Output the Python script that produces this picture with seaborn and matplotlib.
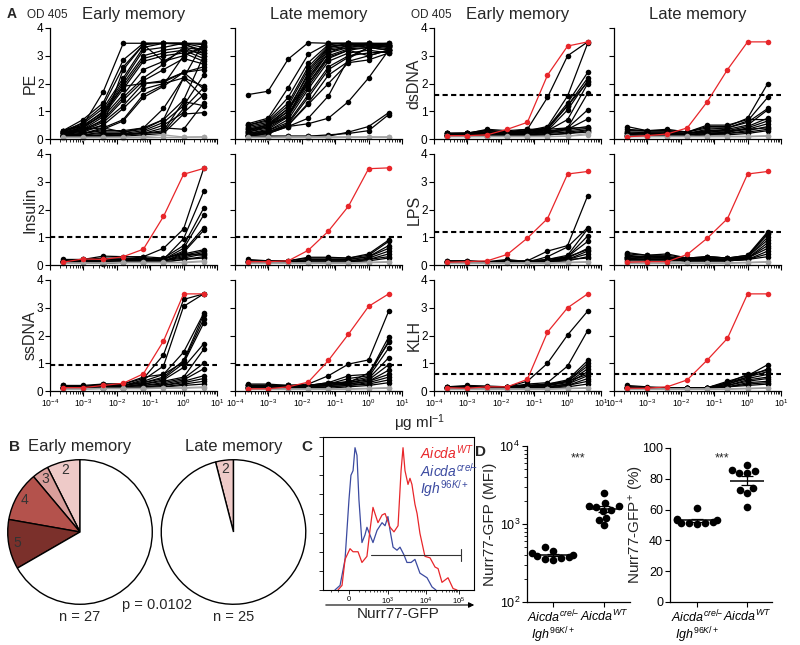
import numpy as np
import pandas as pd
import matplotlib
matplotlib.use("Agg")
import matplotlib.pyplot as plt
import seaborn as sns
from matplotlib.ticker import LogLocator, NullFormatter, FixedLocator

sns.set_theme(style="ticks")
plt.rcParams['font.family'] = ['Liberation Sans', 'DejaVu Sans']
plt.rcParams['mathtext.fontset'] = 'custom'
plt.rcParams['mathtext.rm'] = 'Liberation Sans'
plt.rcParams['mathtext.it'] = 'Liberation Sans:italic'
plt.rcParams['mathtext.bf'] = 'Liberation Sans:bold'
plt.rcParams['axes.edgecolor'] = 'black'
plt.rcParams['xtick.color'] = 'black'
plt.rcParams['ytick.color'] = 'black'

# ---------------- data: panel A ----------------
conc = [0.000244, 0.000977, 0.00391, 0.0156, 0.0625, 0.25, 1.0, 4.0]

pe_early = [
    [0.30, 0.50, 1.70, 3.45, 3.45, 3.45, 3.45, 3.45],
    [0.30, 0.70, 1.30, 2.85, 3.45, 3.45, 3.45, 3.40],
    [0.25, 0.60, 1.20, 2.60, 3.40, 3.45, 3.45, 3.30],
    [0.30, 0.55, 1.10, 2.20, 3.30, 3.45, 3.40, 3.20],
    [0.20, 0.45, 1.00, 2.10, 3.20, 3.30, 3.45, 3.10],
    [0.25, 0.50, 0.95, 2.00, 3.00, 3.20, 3.30, 3.00],
    [0.20, 0.40, 0.90, 1.90, 2.90, 3.10, 3.20, 2.90],
    [0.30, 0.45, 0.85, 1.80, 2.80, 3.00, 3.10, 2.80],
    [0.20, 0.35, 0.80, 1.60, 2.50, 2.80, 3.00, 3.30],
    [0.15, 0.30, 0.70, 1.50, 2.20, 2.70, 3.30, 3.20],
    [0.20, 0.35, 0.65, 1.40, 2.10, 2.50, 2.90, 2.70],
    [0.15, 0.30, 0.60, 1.20, 2.00, 2.10, 2.40, 2.50],
    [0.15, 0.25, 0.50, 1.10, 1.80, 2.00, 2.20, 1.90],
    [0.10, 0.20, 0.40, 0.70, 1.60, 1.95, 3.00, 3.35],
    [0.10, 0.20, 0.35, 0.65, 1.50, 1.90, 2.40, 2.60],
    [0.15, 0.20, 0.30, 0.30, 0.40, 1.10, 2.20, 3.50],
    [0.10, 0.15, 0.25, 0.25, 0.35, 0.70, 1.40, 3.00],
    [0.10, 0.15, 0.20, 0.20, 0.30, 0.60, 1.20, 2.30],
    [0.10, 0.10, 0.15, 0.15, 0.25, 0.50, 0.95, 1.60],
    [0.10, 0.10, 0.10, 0.15, 0.20, 0.40, 0.35, 1.30],
    [0.10, 0.10, 0.15, 0.20, 0.20, 0.30, 1.35, 1.20],
    [0.10, 0.10, 0.10, 0.10, 0.15, 0.20, 0.90, 0.95],
    [0.10, 0.15, 0.10, 0.15, 0.20, 0.25, 1.10, 1.85],
    [0.20, 0.35, 0.40, 0.25, 0.40, 0.70, 2.20, 1.50],
    [0.25, 0.40, 0.90, 1.90, 2.00, 2.05, 2.40, 1.80],
    [0.20, 0.30, 0.50, 2.50, 3.40, 2.80, 3.20, 3.10],
]
pe_early_neg = [[0.07, 0.07, 0.07, 0.07, 0.08, 0.15, 0.07, 0.08],
                [0.05, 0.05, 0.05, 0.05, 0.05, 0.06, 0.06, 0.07]]

pe_late = [
    [1.60, 1.72, 2.88, 3.47, 3.45, 3.45, 3.40, 3.40],
    [0.55, 0.75, 1.85, 3.05, 3.45, 3.45, 3.45, 3.45],
    [0.50, 0.70, 1.50, 2.75, 3.40, 3.45, 3.45, 3.40],
    [0.50, 0.65, 1.30, 2.60, 3.35, 3.40, 3.45, 3.40],
    [0.45, 0.60, 1.20, 2.50, 3.30, 3.40, 3.40, 3.35],
    [0.40, 0.55, 1.10, 2.30, 3.25, 3.35, 3.40, 3.30],
    [0.35, 0.50, 1.00, 2.20, 3.20, 3.30, 3.40, 3.30],
    [0.30, 0.45, 0.90, 2.10, 3.10, 3.30, 3.35, 3.25],
    [0.25, 0.40, 0.85, 2.00, 3.00, 3.25, 3.30, 3.20],
    [0.20, 0.35, 0.80, 1.90, 2.90, 3.20, 3.30, 3.20],
    [0.20, 0.30, 0.70, 1.80, 2.80, 3.10, 3.20, 3.10],
    [0.15, 0.30, 0.60, 1.60, 2.60, 3.00, 3.10, 3.15],
    [0.15, 0.25, 0.55, 1.50, 2.50, 2.95, 3.30, 3.35],
    [0.15, 0.25, 0.50, 1.30, 2.30, 2.80, 3.00, 3.20],
    [0.10, 0.20, 0.50, 1.25, 2.00, 2.75, 2.85, 3.10],
    [0.15, 0.20, 0.45, 0.75, 1.55, 2.90, 3.30, 3.35],
    [0.10, 0.20, 0.45, 0.55, 0.75, 1.35, 2.20, 3.20],
    [0.10, 0.10, 0.10, 0.10, 0.10, 0.25, 0.45, 0.95],
    [0.10, 0.10, 0.10, 0.10, 0.15, 0.20, 0.30, 0.88],
    [0.30, 0.50, 0.80, 2.20, 3.10, 3.40, 3.40, 3.40],
    [0.25, 0.45, 1.00, 2.40, 3.30, 3.45, 3.40, 3.45],
    [0.35, 0.50, 1.10, 2.00, 2.95, 3.20, 3.00, 3.20],
]
pe_late_neg = [[0.07, 0.07, 0.08, 0.08, 0.08, 0.08, 0.08, 0.08],
               [0.05, 0.05, 0.05, 0.05, 0.05, 0.06, 0.06, 0.06]]

dsdna_early = [
    [0.20, 0.22, 0.32, 0.25, 0.35, 1.50, 3.00, 3.50],
    [0.15, 0.15, 0.20, 0.20, 0.30, 0.45, 1.55, 3.45],
    [0.20, 0.20, 0.25, 0.20, 0.25, 0.40, 1.30, 2.40],
    [0.15, 0.15, 0.20, 0.20, 0.20, 0.35, 1.20, 2.20],
    [0.20, 0.20, 0.30, 0.25, 0.30, 0.30, 1.05, 2.10],
    [0.15, 0.15, 0.20, 0.15, 0.20, 0.30, 0.70, 2.00],
    [0.10, 0.10, 0.15, 0.15, 0.15, 0.25, 0.40, 1.65],
    [0.15, 0.15, 0.20, 0.20, 0.20, 0.25, 0.40, 1.05],
    [0.10, 0.10, 0.15, 0.15, 0.15, 0.20, 0.35, 0.72],
    [0.20, 0.20, 0.25, 0.25, 0.25, 0.30, 0.35, 0.45],
    [0.15, 0.15, 0.20, 0.20, 0.20, 0.25, 0.30, 0.38],
    [0.10, 0.10, 0.10, 0.15, 0.15, 0.20, 0.25, 0.33],
    [0.10, 0.12, 0.12, 0.12, 0.15, 0.15, 0.20, 0.30],
    [0.20, 0.20, 0.35, 0.30, 0.35, 0.35, 0.40, 0.40],
    [0.15, 0.20, 0.25, 0.25, 0.30, 0.40, 1.20, 2.05],
    [0.10, 0.10, 0.10, 0.10, 0.12, 0.15, 0.20, 0.25],
]
dsdna_early_neg = [[0.10, 0.10, 0.10, 0.10, 0.10, 0.10, 0.10, 0.20],
                   [0.08, 0.08, 0.08, 0.08, 0.08, 0.08, 0.10, 0.15]]
dsdna_early_pos = [0.12, 0.12, 0.15, 0.35, 0.60, 2.30, 3.35, 3.50]

dsdna_late = [
    [0.45, 0.30, 0.30, 0.25, 0.45, 0.45, 0.75, 2.00],
    [0.30, 0.30, 0.30, 0.25, 0.40, 0.40, 0.65, 1.50],
    [0.25, 0.25, 0.25, 0.20, 0.35, 0.40, 0.60, 1.10],
    [0.20, 0.25, 0.25, 0.20, 0.30, 0.35, 0.50, 1.05],
    [0.20, 0.20, 0.20, 0.20, 0.25, 0.30, 0.45, 0.75],
    [0.15, 0.20, 0.20, 0.15, 0.25, 0.25, 0.40, 0.65],
    [0.15, 0.15, 0.15, 0.15, 0.20, 0.25, 0.35, 0.55],
    [0.10, 0.15, 0.15, 0.15, 0.20, 0.20, 0.30, 0.45],
    [0.10, 0.10, 0.15, 0.15, 0.15, 0.20, 0.25, 0.35],
    [0.10, 0.10, 0.10, 0.10, 0.15, 0.15, 0.20, 0.30],
    [0.35, 0.30, 0.35, 0.25, 0.50, 0.50, 0.70, 0.70],
    [0.20, 0.20, 0.20, 0.20, 0.30, 0.30, 0.35, 0.40],
]
dsdna_late_neg = [[0.10, 0.10, 0.10, 0.10, 0.10, 0.10, 0.10, 0.12],
                  [0.08, 0.08, 0.08, 0.08, 0.08, 0.08, 0.08, 0.10]]
dsdna_late_pos = [0.08, 0.12, 0.18, 0.40, 1.35, 2.50, 3.50, 3.50]

insulin_early = [
    [0.20, 0.20, 0.32, 0.30, 0.30, 0.60, 1.30, 3.48],
    [0.15, 0.20, 0.25, 0.25, 0.25, 0.20, 0.95, 2.65],
    [0.15, 0.15, 0.20, 0.20, 0.20, 0.25, 0.70, 2.05],
    [0.10, 0.15, 0.20, 0.20, 0.20, 0.20, 0.60, 1.80],
    [0.15, 0.15, 0.20, 0.20, 0.25, 0.20, 0.50, 1.35],
    [0.10, 0.10, 0.15, 0.15, 0.20, 0.20, 0.45, 1.25],
    [0.10, 0.15, 0.15, 0.15, 0.15, 0.15, 0.40, 0.55],
    [0.10, 0.10, 0.10, 0.15, 0.15, 0.15, 0.35, 0.50],
    [0.10, 0.10, 0.10, 0.10, 0.10, 0.15, 0.30, 0.45],
    [0.10, 0.10, 0.10, 0.10, 0.15, 0.15, 0.25, 0.40],
    [0.10, 0.10, 0.05, 0.10, 0.10, 0.10, 0.20, 0.30],
    [0.15, 0.15, 0.20, 0.20, 0.30, 0.25, 0.40, 0.35],
    [0.10, 0.10, 0.10, 0.10, 0.10, 0.10, 0.20, 0.25],
]
insulin_early_neg = [[0.08, 0.08, 0.08, 0.10, 0.10, 0.10, 0.10, 0.15],
                     [0.06, 0.06, 0.06, 0.08, 0.08, 0.08, 0.08, 0.12]]
insulin_early_pos = [0.10, 0.22, 0.20, 0.30, 0.57, 1.75, 3.27, 3.48]

insulin_late = [
    [0.20, 0.15, 0.15, 0.28, 0.28, 0.25, 0.40, 0.90],
    [0.15, 0.15, 0.15, 0.25, 0.25, 0.25, 0.35, 0.85],
    [0.15, 0.12, 0.12, 0.20, 0.20, 0.20, 0.30, 0.70],
    [0.10, 0.10, 0.10, 0.20, 0.20, 0.20, 0.30, 0.60],
    [0.10, 0.10, 0.10, 0.15, 0.15, 0.15, 0.25, 0.50],
    [0.10, 0.10, 0.10, 0.15, 0.15, 0.15, 0.20, 0.40],
    [0.10, 0.10, 0.10, 0.10, 0.10, 0.10, 0.20, 0.30],
    [0.10, 0.10, 0.10, 0.10, 0.10, 0.10, 0.15, 0.25],
]
insulin_late_neg = [[0.08, 0.08, 0.08, 0.08, 0.08, 0.08, 0.10, 0.12],
                    [0.06, 0.06, 0.06, 0.06, 0.06, 0.06, 0.08, 0.10]]
insulin_late_pos = [0.12, 0.12, 0.15, 0.53, 1.22, 2.12, 3.47, 3.50]

lps_early = [
    [0.15, 0.15, 0.10, 0.15, 0.15, 0.50, 0.70, 2.50],
    [0.10, 0.10, 0.10, 0.15, 0.10, 0.30, 0.65, 1.35],
    [0.10, 0.10, 0.10, 0.15, 0.10, 0.20, 0.35, 1.30],
    [0.10, 0.10, 0.10, 0.15, 0.15, 0.20, 0.30, 1.05],
    [0.10, 0.10, 0.10, 0.10, 0.10, 0.15, 0.30, 0.85],
    [0.10, 0.10, 0.10, 0.10, 0.10, 0.15, 0.25, 0.60],
    [0.10, 0.10, 0.10, 0.10, 0.10, 0.15, 0.20, 0.50],
    [0.10, 0.10, 0.10, 0.10, 0.10, 0.10, 0.20, 0.40],
    [0.10, 0.10, 0.10, 0.10, 0.10, 0.10, 0.15, 0.30],
    [0.10, 0.10, 0.10, 0.15, 0.10, 0.15, 0.20, 0.25],
    [0.15, 0.15, 0.12, 0.20, 0.12, 0.10, 0.30, 0.55],
]
lps_early_neg = [[0.08, 0.08, 0.08, 0.08, 0.08, 0.08, 0.10, 0.12],
                 [0.06, 0.06, 0.06, 0.06, 0.06, 0.06, 0.08, 0.10]]
lps_early_pos = [0.10, 0.12, 0.15, 0.38, 0.97, 1.67, 3.28, 3.37]

lps_late = [
    [0.45, 0.35, 0.40, 0.25, 0.30, 0.25, 0.35, 1.20],
    [0.40, 0.35, 0.35, 0.25, 0.30, 0.25, 0.35, 1.10],
    [0.35, 0.30, 0.30, 0.20, 0.25, 0.20, 0.30, 1.00],
    [0.30, 0.30, 0.30, 0.20, 0.25, 0.20, 0.30, 0.90],
    [0.30, 0.25, 0.25, 0.20, 0.20, 0.20, 0.25, 0.80],
    [0.25, 0.25, 0.25, 0.20, 0.20, 0.20, 0.25, 0.70],
    [0.25, 0.20, 0.20, 0.15, 0.20, 0.15, 0.25, 0.60],
    [0.20, 0.20, 0.20, 0.15, 0.15, 0.15, 0.20, 0.50],
    [0.20, 0.20, 0.20, 0.15, 0.15, 0.15, 0.20, 0.40],
    [0.15, 0.15, 0.15, 0.15, 0.15, 0.15, 0.20, 0.30],
    [0.30, 0.30, 0.25, 0.20, 0.30, 0.25, 0.30, 1.15],
]
lps_late_neg = [[0.08, 0.08, 0.08, 0.08, 0.08, 0.08, 0.10, 0.12],
                [0.06, 0.06, 0.06, 0.06, 0.06, 0.06, 0.08, 0.10]]
lps_late_pos = [0.10, 0.12, 0.12, 0.38, 0.97, 1.67, 3.28, 3.37]

ssdna_early = [
    [0.20, 0.15, 0.25, 0.25, 0.45, 1.30, 3.30, 3.50],
    [0.15, 0.15, 0.20, 0.20, 0.40, 0.90, 3.05, 3.50],
    [0.15, 0.15, 0.20, 0.20, 0.35, 0.60, 1.40, 2.80],
    [0.10, 0.15, 0.20, 0.20, 0.30, 0.50, 1.10, 2.75],
    [0.15, 0.15, 0.20, 0.20, 0.30, 0.45, 1.00, 2.45],
    [0.10, 0.10, 0.15, 0.15, 0.25, 0.40, 0.85, 1.70],
    [0.10, 0.10, 0.15, 0.15, 0.25, 0.35, 0.50, 1.50],
    [0.10, 0.10, 0.15, 0.15, 0.20, 0.30, 0.45, 1.00],
    [0.10, 0.10, 0.10, 0.15, 0.20, 0.25, 0.40, 0.80],
    [0.10, 0.10, 0.10, 0.10, 0.15, 0.20, 0.35, 0.55],
    [0.10, 0.10, 0.10, 0.10, 0.15, 0.20, 0.30, 0.45],
    [0.10, 0.10, 0.10, 0.10, 0.10, 0.15, 0.25, 0.35],
    [0.10, 0.10, 0.10, 0.10, 0.10, 0.15, 0.20, 0.25],
    [0.20, 0.20, 0.25, 0.25, 0.50, 0.60, 1.05, 2.60],
]
ssdna_early_neg = [[0.08, 0.08, 0.10, 0.10, 0.10, 0.12, 0.12, 0.15],
                   [0.06, 0.06, 0.08, 0.08, 0.08, 0.10, 0.10, 0.12]]
ssdna_early_pos = [0.12, 0.12, 0.20, 0.28, 0.62, 1.80, 3.50, 3.50]

ssdna_late = [
    [0.25, 0.25, 0.20, 0.25, 0.55, 0.97, 1.12, 2.88],
    [0.20, 0.20, 0.20, 0.20, 0.30, 0.55, 0.60, 1.95],
    [0.20, 0.20, 0.15, 0.20, 0.25, 0.45, 0.55, 1.80],
    [0.20, 0.20, 0.15, 0.20, 0.25, 0.35, 0.50, 1.55],
    [0.15, 0.15, 0.15, 0.15, 0.25, 0.30, 0.45, 1.20],
    [0.15, 0.15, 0.15, 0.15, 0.20, 0.30, 0.40, 0.95],
    [0.15, 0.15, 0.15, 0.15, 0.20, 0.25, 0.35, 0.75],
    [0.10, 0.10, 0.10, 0.15, 0.20, 0.25, 0.35, 0.60],
    [0.10, 0.10, 0.10, 0.10, 0.15, 0.20, 0.30, 0.50],
    [0.10, 0.10, 0.10, 0.10, 0.15, 0.20, 0.25, 0.40],
    [0.10, 0.10, 0.10, 0.10, 0.10, 0.15, 0.20, 0.30],
    [0.20, 0.20, 0.20, 0.20, 0.30, 0.30, 0.65, 1.75],
]
ssdna_late_neg = [[0.08, 0.08, 0.08, 0.08, 0.08, 0.08, 0.10, 0.12],
                  [0.06, 0.06, 0.06, 0.06, 0.06, 0.06, 0.08, 0.10]]
ssdna_late_pos = [0.08, 0.08, 0.15, 0.32, 1.10, 2.05, 3.05, 3.50]

klh_early = [
    [0.15, 0.20, 0.18, 0.15, 0.35, 1.00, 2.02, 2.88],
    [0.15, 0.15, 0.15, 0.15, 0.25, 0.30, 0.90, 2.18],
    [0.15, 0.15, 0.15, 0.15, 0.20, 0.25, 0.40, 1.10],
    [0.10, 0.15, 0.15, 0.15, 0.20, 0.25, 0.35, 1.00],
    [0.10, 0.10, 0.15, 0.15, 0.15, 0.20, 0.35, 0.90],
    [0.10, 0.10, 0.10, 0.15, 0.15, 0.20, 0.30, 0.80],
    [0.10, 0.10, 0.10, 0.10, 0.15, 0.15, 0.25, 0.70],
    [0.10, 0.10, 0.10, 0.10, 0.10, 0.15, 0.25, 0.55],
    [0.10, 0.10, 0.10, 0.10, 0.10, 0.15, 0.20, 0.45],
    [0.10, 0.10, 0.10, 0.10, 0.10, 0.10, 0.20, 0.35],
    [0.10, 0.10, 0.10, 0.10, 0.10, 0.10, 0.15, 0.25],
    [0.15, 0.15, 0.12, 0.15, 0.20, 0.20, 0.35, 0.60],
]
klh_early_neg = [[0.08, 0.08, 0.08, 0.08, 0.08, 0.08, 0.10, 0.12],
                 [0.06, 0.06, 0.06, 0.06, 0.06, 0.06, 0.08, 0.10]]
klh_early_pos = [0.12, 0.10, 0.15, 0.15, 0.42, 2.12, 3.00, 3.50]

klh_late = [
    [0.20, 0.15, 0.12, 0.12, 0.12, 0.35, 0.55, 0.95],
    [0.15, 0.12, 0.12, 0.12, 0.12, 0.30, 0.50, 0.80],
    [0.15, 0.12, 0.10, 0.12, 0.12, 0.25, 0.50, 0.70],
    [0.12, 0.10, 0.10, 0.10, 0.10, 0.25, 0.45, 0.60],
    [0.10, 0.10, 0.10, 0.10, 0.10, 0.20, 0.40, 0.50],
    [0.10, 0.10, 0.10, 0.10, 0.10, 0.20, 0.35, 0.45],
    [0.10, 0.10, 0.10, 0.10, 0.10, 0.15, 0.30, 0.35],
    [0.10, 0.10, 0.10, 0.10, 0.10, 0.15, 0.25, 0.30],
    [0.10, 0.10, 0.10, 0.10, 0.10, 0.15, 0.20, 0.25],
    [0.15, 0.10, 0.10, 0.12, 0.12, 0.30, 0.60, 0.75],
]
klh_late_neg = [[0.08, 0.08, 0.08, 0.08, 0.08, 0.08, 0.10, 0.12],
                [0.06, 0.06, 0.06, 0.06, 0.06, 0.06, 0.08, 0.10]]
klh_late_pos = [0.10, 0.10, 0.15, 0.40, 1.12, 1.90, 3.50, 3.50]

cutoff_dsdna = 1.6
cutoff_insulin = 1.0
cutoff_lps = 1.2
cutoff_ssdna = 0.95
cutoff_klh = 0.6

# ---------------- data: panel B ----------------
pie_labels = ['2', '3', '4', '5', '']
pie_early_counts = [2, 1, 3, 3, 18]
pie_late_labels = ['2', '']
pie_late_counts = [1, 24]

# ---------------- data: panel C ----------------
hist_cre_x = [7.9, 11.3, 14.6, 17.2, 18.5, 19.9, 21.2, 22.5, 23.8, 25.8, 27.8, 29.1, 31.1, 33.1, 35.8,
              39.1, 41.1, 43.0, 44.4, 46.4, 49.0, 51.0, 53.6, 55.6, 58.3, 60.9, 64.2, 68.9, 72.2, 74.8]
hist_cre_y = [0, 3, 20, 59, 75, 78, 93, 88, 59, 31, 36, 41, 36, 31, 39,
              44, 42, 48, 39, 28, 26, 28, 23, 18, 18, 20, 11, 8, 2, 0]
hist_wt_x = [9.9, 12.6, 14.6, 17.9, 19.9, 23.2, 25.8, 29.1, 31.1, 33.1, 36.4, 39.1, 41.1, 44.4, 47.0,
             49.7, 51.7, 53.0, 54.3, 56.3, 57.6, 58.9, 60.9, 62.3, 64.2, 67.5, 70.9, 74.2, 76.2,
             78.8, 82.8, 86.1, 88.7]
hist_wt_y = [0, 3, 20, 27, 25, 25, 18, 22, 39, 54, 44, 49, 50, 41, 38,
             42, 78, 93, 78, 69, 73, 69, 56, 50, 37, 22, 21, 15, 14,
             5, 8, 1, 0]
gate_x = [31.8, 91.4]
gate_y = 23
hist_tick_pos = [17.2, 43.0, 68.2, 90.0]
hist_tick_lab = ['0', r'$10^3$', r'$10^4$', r'$10^5$']

# ---------------- data: panel D ----------------
mfi_cre = [500, 455, 420, 405, 385, 375, 365, 360, 350]
mfi_wt = [2500, 1850, 1680, 1650, 1700, 1520, 1480, 1200, 1130, 960]
pct_cre = [61, 54, 53.5, 53, 52, 51.5, 51, 51, 50.5]
pct_wt = [89, 86, 85, 84, 84, 74, 73, 71, 62]

RED = '#e8262a'
BLUE = '#3b4aa0'
GRAY = '#a3a3a3'

W, H = 800, 645
fig = plt.figure(figsize=(8, 6.45), dpi=100)


def pax(x0, y0, w, h):
    return fig.add_axes([x0 / W, 1 - (y0 + h) / H, w / W, h / H])


def ftext(x, y, s, **kw):
    kw.setdefault('ha', 'center')
    kw.setdefault('va', 'center')
    fig.text(x / W, 1 - y / H, s, **kw)


def curves_df(curves, tag):
    rows = []
    for i, c in enumerate(curves):
        for xv, yv in zip(conc, c):
            rows.append((f"{tag}{i}", xv, yv))
    return pd.DataFrame(rows, columns=['curve', 'conc', 'od'])


# ---------------- panel A ----------------
cols_x = [50, 235, 434, 614]
col_w = 167
rows_top = [28, 154, 280]
row_h = 111

panels = [
    (0, 0, 'PE', pe_early, pe_early_neg, None, None),
    (0, 1, None, pe_late, pe_late_neg, None, None),
    (1, 0, 'Insulin', insulin_early, insulin_early_neg, insulin_early_pos, cutoff_insulin),
    (1, 1, None, insulin_late, insulin_late_neg, insulin_late_pos, cutoff_insulin),
    (2, 0, 'ssDNA', ssdna_early, ssdna_early_neg, ssdna_early_pos, cutoff_ssdna),
    (2, 1, None, ssdna_late, ssdna_late_neg, ssdna_late_pos, cutoff_ssdna),
    (0, 2, 'dsDNA', dsdna_early, dsdna_early_neg, dsdna_early_pos, cutoff_dsdna),
    (0, 3, None, dsdna_late, dsdna_late_neg, dsdna_late_pos, cutoff_dsdna),
    (1, 2, 'LPS', lps_early, lps_early_neg, lps_early_pos, cutoff_lps),
    (1, 3, None, lps_late, lps_late_neg, lps_late_pos, cutoff_lps),
    (2, 2, 'KLH', klh_early, klh_early_neg, klh_early_pos, cutoff_klh),
    (2, 3, None, klh_late, klh_late_neg, klh_late_pos, cutoff_klh),
]

for row, col, lab, blk, neg, pos, cut in panels:
    ax = pax(cols_x[col], rows_top[row], col_w, row_h)
    ax.set_xscale('log')
    if cut is not None:
        ax.axhline(cut, color='black', ls=(0, (2.5, 1.6)), lw=1.5, zorder=1)
    layers = [(blk, 'black', 'b'), (neg, GRAY, 'g')]
    if pos is not None:
        layers.append(([pos], RED, 'r'))
    for curves, color, tag in layers:
        d = curves_df(curves, tag)
        sns.lineplot(data=d, x='conc', y='od', units='curve', estimator=None, sort=False,
                     color=color, marker='o', markersize=4, markeredgewidth=0,
                     linewidth=0.9, ax=ax, clip_on=False, legend=False)
    ax.set_xlim(1e-4, 1e1)
    ax.set_ylim(0, 4)
    ax.set_xlabel('')
    ax.set_ylabel('')
    ax.set_yticks([0, 1, 2, 3, 4])
    ax.xaxis.set_major_locator(LogLocator(base=10, numticks=10))
    ax.xaxis.set_minor_locator(LogLocator(base=10, subs=np.arange(2, 10), numticks=20))
    ax.xaxis.set_minor_formatter(NullFormatter())
    sns.despine(ax=ax)
    for s in ['left', 'bottom']:
        ax.spines[s].set_linewidth(0.9)
    ax.tick_params(axis='both', which='major', direction='out', length=3.5, width=0.8,
                   pad=1.2)
    ax.tick_params(axis='x', which='minor', direction='out', length=2, width=0.6)
    ax.tick_params(axis='y', labelsize=8.5)
    ax.tick_params(axis='x', labelsize=6.2)
    if row < 2:
        ax.tick_params(axis='x', labelbottom=False)
    if col in (1, 3):
        ax.tick_params(axis='y', labelleft=False)
    ax.set_facecolor('none')
    if lab is not None:
        ftext(cols_x[col] - 20, rows_top[row] + row_h / 2, lab, rotation=90, fontsize=11.5)

ftext(12, 14, 'A', fontsize=10, fontweight='bold')
ftext(47, 15, 'OD 405', fontsize=8.5)
ftext(431, 15, 'OD 405', fontsize=8.5)
for c, t in zip(range(4), ['Early memory', 'Late memory', 'Early memory', 'Late memory']):
    ftext(cols_x[c] + col_w / 2, 15, t, fontsize=12)
ftext(420, 423, r'$\mathrm{\mu g\ ml^{-1}}$', fontsize=11)

# ---------------- panel B ----------------
pie_cols = ['#eecac8', '#d99e9b', '#b4524c', '#7b302b', 'white']
for cx, counts, labels, title, ntxt in [
        (80, pie_early_counts, pie_labels, 'Early memory', 'n = 27'),
        (233.5, pie_late_counts, pie_late_labels, 'Late memory', 'n = 25')]:
    r = 73
    axp = pax(cx - r, 532 - r, 2 * r, 2 * r)
    cols = pie_cols[:len(counts) - 1] + ['white']
    axp.pie(counts, colors=cols, labels=labels, startangle=90, counterclock=True,
            labeldistance=0.88, wedgeprops=dict(edgecolor='black', linewidth=1.0),
            textprops=dict(fontsize=10, color='#333333', ha='center', va='center'))
    axp.set_xlim(-1.01, 1.01)
    axp.set_ylim(-1.01, 1.01)
    axp.set_aspect('equal')
    ftext(cx, 447, title, fontsize=12)
    ftext(cx, 617, ntxt, fontsize=10.5)
ftext(15, 447, 'B', fontsize=11, fontweight='bold')
ftext(157, 605, 'p = 0.0102', fontsize=10.5)

# ---------------- panel C ----------------
axc = pax(323, 437, 151, 153)
sns.lineplot(x=hist_cre_x, y=hist_cre_y, sort=False, color=BLUE, lw=0.9, ax=axc)
sns.lineplot(x=hist_wt_x, y=hist_wt_y, sort=False, color=RED, lw=0.9, ax=axc)
axc.plot(gate_x, [gate_y, gate_y], color='#333333', lw=0.8)
axc.plot([gate_x[1], gate_x[1]], [gate_y - 4, gate_y + 4], color='#333333', lw=0.8)
axc.set_xlim(0, 100)
axc.set_ylim(0, 100)
axc.set_xticks(hist_tick_pos)
axc.set_xticklabels(hist_tick_lab, fontsize=5.5)
minor_c = [5, 10, 24, 28, 31, 34, 36, 38, 40, 41.5, 50.6, 55.0, 58.2, 60.6, 62.6, 64.3, 65.8, 67.0,
           74.8, 78.6, 81.4, 83.5, 85.3, 86.7, 88.0, 89.0]
axc.xaxis.set_minor_locator(FixedLocator(minor_c))
axc.set_yticks(np.arange(0, 101, 12.5))
axc.set_yticklabels([])
axc.tick_params(axis='both', which='major', direction='out', length=3, width=0.6, pad=1)
axc.tick_params(axis='x', which='minor', direction='out', length=1.5, width=0.5)
for s in axc.spines.values():
    s.set_linewidth(0.8)
ftext(307, 447, 'C', fontsize=11, fontweight='bold')
ftext(420, 453, r'$\mathit{Aicda}^{\mathit{WT}}$', fontsize=10, color=RED, ha='left')
ftext(420, 471, r'$\mathit{Aicda}^{\mathit{cre/}\!\mathrm{-}}$', fontsize=10, color=BLUE, ha='left')
ftext(420, 489, r'$\mathit{Igh}^{\mathit{96K/+}}$', fontsize=10, color=BLUE, ha='left')
fig.add_artist(matplotlib.patches.FancyArrowPatch(
    (323 / W, 1 - 605 / H), (477 / W, 1 - 605 / H), transform=fig.transFigure,
    arrowstyle='-|>', mutation_scale=8, lw=0.8, color='black'))
ftext(398, 614, 'Nurr77-GFP', fontsize=11)

# ---------------- panel D ----------------
grp_labels = [r'$\mathit{Aicda}^{\mathit{cre/}\!\mathrm{-}}$' + '\n' + r'$\mathit{Igh}^{\mathit{96K/+}}$',
              r'$\mathit{Aicda}^{\mathit{WT}}$']
dfm = pd.DataFrame({'grp': ['cre'] * len(mfi_cre) + ['wt'] * len(mfi_wt),
                    'val': mfi_cre + mfi_wt})
dfp = pd.DataFrame({'grp': ['cre'] * len(pct_cre) + ['wt'] * len(pct_wt),
                    'val': pct_cre + pct_wt})

axd1 = pax(527, 446, 103, 156)
axd1.set_yscale('log')
sns.swarmplot(data=dfm, x='grp', y='val', order=['cre', 'wt'], color='black', size=5.5,
              ax=axd1, log_scale=True)
axd1.set_ylim(100, 10000)
axd1.set_xlim(-0.5, 1.5)

axd2 = pax(670, 448, 102, 154)
sns.swarmplot(data=dfp, x='grp', y='val', order=['cre', 'wt'], color='black', size=5.5, ax=axd2)
axd2.set_ylim(0, 100)
axd2.set_xlim(-0.54, 1.5)
axd2.set_yticks([0, 20, 40, 60, 80, 100])

for ax, groups in [(axd1, [mfi_cre, mfi_wt]), (axd2, [pct_cre, pct_wt])]:
    for i, vals in enumerate(groups):
        v = np.array(vals, dtype=float)
        m = v.mean()
        sem = v.std(ddof=1) / np.sqrt(len(v))
        ax.hlines(m, i - 0.34, i + 0.34, color='black', lw=1.1, zorder=5)
        ax.errorbar(i, m, yerr=sem, color='black', lw=0.9, capsize=4, capthick=0.9, zorder=5)
    ax.set_xticks([0, 1])
    ax.set_xticklabels(grp_labels, fontsize=9, linespacing=1.0)
    ax.set_xlabel('')
    ax.set_ylabel('')
    sns.despine(ax=ax)
    for s in ['left', 'bottom']:
        ax.spines[s].set_linewidth(0.9)
    ax.tick_params(axis='both', which='major', direction='out', length=3.5, width=0.8,
                   labelsize=9, pad=1.5)
    ax.tick_params(axis='x', labelsize=9, pad=1.5)
    ax.tick_params(axis='y', which='minor', direction='out', length=2, width=0.6)
    ax.set_facecolor('none')

ftext(481, 452, 'D', fontsize=11, fontweight='bold')
ftext(490, 524, 'Nurr77-GFP (MFI)', rotation=90, fontsize=11)
ftext(636, 525, r'Nurr77-GFP$^{+}$ (%)', rotation=90, fontsize=11)
ftext(578, 458, '***', fontsize=9)
ftext(722, 458, '***', fontsize=9)

fig.savefig('out.png', dpi=100)
